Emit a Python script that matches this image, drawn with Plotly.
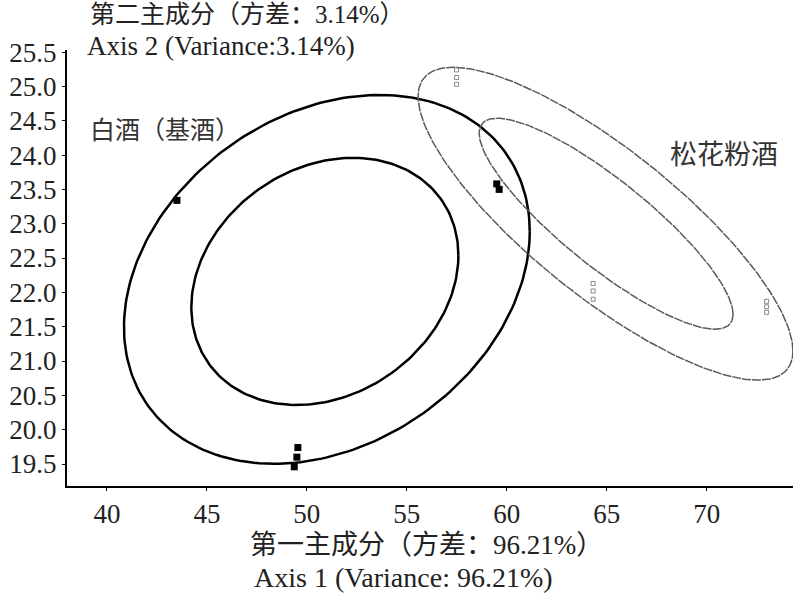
import numpy as np
import plotly.graph_objects as go

# confidence ellipses:
# centre x/y, half width, half height, x-y correlation
ellipse_names = ["baijiu_outer", "baijiu_inner", "songhua_outer", "songhua_inner"]
ellipse_cx = [51.0, 50.9, 64.94, 64.97]
ellipse_cy = [22.19, 22.16, 23.0, 23.0]
ellipse_hw = [10.15, 6.68, 9.375, 6.35]
ellipse_hh = [2.686, 1.80, 2.278, 1.536]
ellipse_rho = [0.26, 0.21, -0.813, -0.858]

# sample scores
baijiu_x = [43.5, 59.5, 59.62, 49.55, 49.5, 49.37]
baijiu_y = [23.34, 23.58, 23.5, 19.74, 19.6, 19.46]
songhua_x = [57.49, 57.49, 57.49, 64.32, 64.32, 64.32, 73.0, 73.0, 73.0]
songhua_y = [25.24, 25.13, 25.03, 22.13, 22.02, 21.9, 21.87, 21.79, 21.71]

x_ticks = [40, 45, 50, 55, 60, 65, 70]
y_ticks = [19.5, 20.0, 20.5, 21.0, 21.5, 22.0, 22.5, 23.0, 23.5, 24.0, 24.5, 25.0, 25.5]

FONT = "Liberation Serif, Times New Roman, Noto Sans CJK SC, serif"


def ellipse_xy(cx, cy, hw, hh, rho, n=241):
    t = np.linspace(0, 2 * np.pi, n)
    x = cx + hw * np.cos(t)
    y = cy + hh * (rho * np.cos(t) + np.sqrt(1 - rho ** 2) * np.sin(t))
    return x, y


fig = go.Figure()

for i, name in enumerate(ellipse_names):
    ex, ey = ellipse_xy(ellipse_cx[i], ellipse_cy[i], ellipse_hw[i], ellipse_hh[i], ellipse_rho[i])
    if name.startswith("baijiu"):
        line = dict(color="black", width=2.5)
    else:
        line = dict(color="#5a5a5a", width=1.5, dash="9px,1px")
    fig.add_trace(go.Scatter(x=ex, y=ey, mode="lines", line=line, hoverinfo="skip"))

fig.add_trace(go.Scatter(
    x=songhua_x, y=songhua_y, mode="markers",
    marker=dict(symbol="square-open", size=4, color="#888888", line=dict(width=1))
))
fig.add_trace(go.Scatter(
    x=baijiu_x, y=baijiu_y, mode="markers",
    marker=dict(symbol="square", size=7, color="black")
))

fig.add_annotation(x=39.07, y=24.36, xref="x", yref="y", text="白酒（基酒）",
                   showarrow=False, xanchor="left", yanchor="middle",
                   font=dict(family=FONT, size=25, color="#333333"))
fig.add_annotation(x=68.07, y=24.0, xref="x", yref="y", text="松花粉酒",
                   showarrow=False, xanchor="left", yanchor="middle",
                   font=dict(family=FONT, size=27, color="#333333"))

# axis titles
fig.add_annotation(x=0.0293, y=1.0803, xref="paper", yref="paper", text="第二主成分（方差：3.14%）",
                   showarrow=False, xanchor="left", yanchor="middle",
                   font=dict(family=FONT, size=25, color="#222222"))
fig.add_annotation(x=0.0252, y=1.0092, xref="paper", yref="paper", text="Axis 2 (Variance:3.14%)",
                   showarrow=False, xanchor="left", yanchor="middle",
                   font=dict(family=FONT, size=27, color="#222222"))
fig.add_annotation(x=0.4947, y=-0.1353, xref="paper", yref="paper", text="第一主成分（方差：96.21%）",
                   showarrow=False, xanchor="center", yanchor="middle",
                   font=dict(family=FONT, size=27, color="#222222"))
fig.add_annotation(x=0.463, y=-0.211, xref="paper", yref="paper", text="Axis 1 (Variance: 96.21%)",
                   showarrow=False, xanchor="center", yanchor="middle",
                   font=dict(family=FONT, size=28, color="#222222"))

fig.update_xaxes(
    range=[38.0, 74.32], tickvals=x_ticks, ticktext=[str(v) for v in x_ticks],
    showgrid=False, zeroline=False, showline=True, linecolor="black", linewidth=2,
    ticks="outside", ticklen=3, tickcolor="black", automargin=False,
    tickfont=dict(family=FONT, size=27, color="#222222")
)
fig.update_yaxes(
    range=[19.18, 25.53], tickvals=y_ticks, ticktext=["%.1f" % v for v in y_ticks],
    showgrid=False, zeroline=False, showline=True, linecolor="black", linewidth=2,
    ticks="outside", ticklen=3, tickcolor="black", automargin=False,
    tickfont=dict(family=FONT, size=27, color="#222222")
)

fig.update_layout(
    width=800, height=599,
    margin=dict(l=67, r=7, t=50, b=113),
    plot_bgcolor="white", paper_bgcolor="white",
    showlegend=False,
)

# drop the browser's default 8px body margin so the figure fills the window
fig.write_html("out.html", config={"displayModeBar": False},
               post_script="document.body.style.margin='0px';")
